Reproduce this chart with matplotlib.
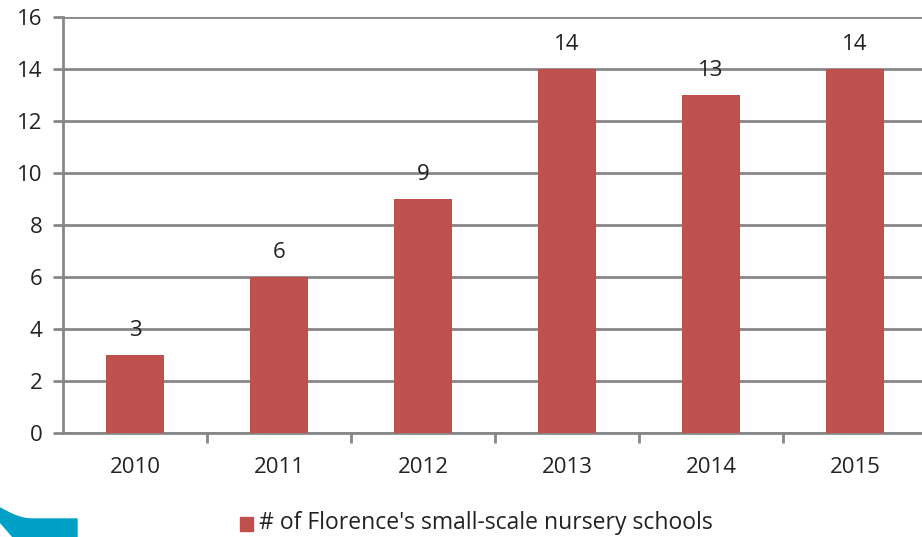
import matplotlib.pyplot as plt
from matplotlib.patches import Polygon, Rectangle
import numpy as np

years = ['2010', '2011', '2012', '2013', '2014', '2015']
schools = [3, 6, 9, 14, 13, 14]
series_name = "# of Florence's small-scale nursery schools"

bar_color = '#C0504D'
grid_color = '#878787'
text_color = '#222222'
fs = 16

plt.rcParams['font.family'] = ['Open Sans', 'DejaVu Sans']

fig = plt.figure(figsize=(9.22, 5.37), dpi=100)
ax = fig.add_axes([63 / 922, 104 / 537, 864 / 922, 416 / 537])

x = np.arange(len(years))
ax.bar(x, schools, width=0.4, color=bar_color, zorder=3)
for xi, v in zip(x, schools):
    ax.annotate(str(v), (xi, v), xytext=(0, 18), textcoords='offset points',
                ha='center', va='center', fontsize=fs, color=text_color)

ax.set_xlim(-0.5, len(years) - 0.5)
ax.set_ylim(0, 16)
ax.set_yticks(range(0, 17, 2))
ax.yaxis.grid(True, color=grid_color, linewidth=2, zorder=0)

ax.set_xticks(x)
ax.set_xticklabels(years)
ax.set_xticks(np.arange(0.5, len(years) - 0.5, 1), minor=True)
ax.tick_params(axis='x', which='major', length=0, pad=17, labelsize=fs, labelcolor=text_color)
ax.tick_params(axis='x', which='minor', length=7, width=2, color=grid_color, direction='out')
ax.tick_params(axis='y', length=7, width=2, color=grid_color, pad=8, labelsize=fs, labelcolor=text_color)

for side in ['top', 'right']:
    ax.spines[side].set_visible(False)
for side in ['left', 'bottom']:
    ax.spines[side].set_color(grid_color)
    ax.spines[side].set_linewidth(2)

# legend below the plot
fig.patches.append(Rectangle((240 / 922, (537 - 531) / 537), 13 / 922, 14 / 537,
                             transform=fig.transFigure, color=bar_color))
fig.text(259 / 922, (537 - 523) / 537, series_name, fontsize=16.5, color=text_color,
         ha='left', va='center')

# slide decoration in the lower-left corner
t = np.linspace(0, 1, 20)
top_edge = [(32 * s / 922, (537 - (508 + 11 * np.sin(s * np.pi / 2))) / 537) for s in t]
shape = top_edge + [(77 / 922, (537 - 519) / 537), (77 / 922, 0), (13 / 922, 0), (0, (537 - 522) / 537)]
fig.patches.append(Polygon(shape, closed=True, transform=fig.transFigure, color='#00A0C6'))

fig.savefig('out.png', dpi=100)
